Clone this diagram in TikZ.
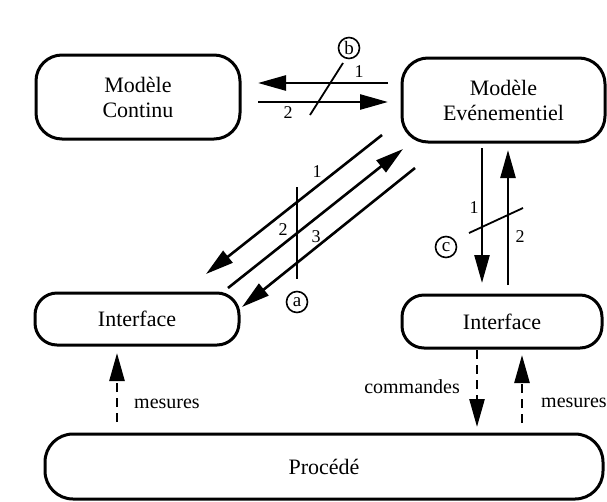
\documentclass[tikz,border=0pt]{standalone}
\usepackage{fontspec}
\setmainfont{Liberation Serif}
\usetikzlibrary{arrows.meta}
\begin{document}
\begin{tikzpicture}[x=1pt,y=-1pt,
  box/.style={draw, line width=3pt, rounded corners=26pt, align=center,
    font=\fontsize{22}{25}\selectfont, inner sep=0pt},
  arr/.style={line width=2.6pt, -{Triangle[length=28pt,width=15pt]}},
  darr/.style={line width=2.6pt, dash pattern=on 9pt off 6pt, -{Triangle[length=28pt,width=15pt]}},
  cut/.style={line width=1.8pt},
  num/.style={font=\fontsize{18}{20}\selectfont, inner sep=0pt},
  lbl/.style={font=\fontsize{20}{22}\selectfont, inner sep=0pt},
  circ/.style={circle, draw, line width=1.6pt, minimum size=21pt, inner sep=0pt,
    font=\fontsize{19}{20}\selectfont}]
\useasboundingbox (0,0) rectangle (607,501);

% boxes
\node[box, minimum width=204pt, minimum height=84pt] (mc) at (138,97) {Modèle\\Continu};
\node[box, minimum width=203pt, minimum height=84pt] (me) at (503.5,100) {Modèle\\Evénementiel};
\node[box, rounded corners=22pt, minimum width=204pt, minimum height=52pt] (ifl) at (137,319) {Interface};
\node[box, rounded corners=22pt, minimum width=200pt, minimum height=53pt] (ifr) at (502,321.5) {Interface};
\node[box, rounded corners=28pt, minimum width=558pt, minimum height=65pt] (proc) at (324,466.5) {Procédé};

% coordinates
\coordinate (h1s) at (388,83);  \coordinate (h1e) at (258,83);
\coordinate (h2s) at (258,102); \coordinate (h2e) at (388,102);
\coordinate (bs) at (343,63);   \coordinate (be) at (310,115);
\coordinate (d1s) at (382,135); \coordinate (d1e) at (206,274);
\coordinate (d2s) at (228,288); \coordinate (d2e) at (403,149);
\coordinate (d3s) at (415,168); \coordinate (d3e) at (242,307);
\coordinate (as) at (297,187);  \coordinate (ae) at (297,279);
\coordinate (v1s) at (482,148); \coordinate (v1e) at (482,283);
\coordinate (v2s) at (508,285); \coordinate (v2e) at (508,150);
\coordinate (cs) at (469,233);  \coordinate (ce) at (523,208);
\coordinate (m1s) at (117,422); \coordinate (m1e) at (117,353);
\coordinate (cms) at (477,350); \coordinate (cme) at (477,427);
\coordinate (m2s) at (522,423); \coordinate (m2e) at (522,355);

% horizontal arrows between models
\draw[arr] (h1s) -- (h1e);
\draw[arr] (h2s) -- (h2e);
\node[num] (n1) at (359,72) {1};
\node[num] (n2) at (288,113) {2};
\draw[cut] (bs) -- (be);
\node[circ] (cb) at (349,48) {b};

% diagonal arrows
\draw[arr] (d1s) -- (d1e);
\draw[arr] (d2s) -- (d2e);
\draw[arr] (d3s) -- (d3e);
\node[num] (dn1) at (317,172) {1};
\node[num] (dn2) at (283,230) {2};
\node[num] (dn3) at (316,237) {3};
\draw[cut] (as) -- (ae);
\node[circ] (ca) at (297,302) {a};

% vertical arrows
\draw[arr] (v1s) -- (v1e);
\draw[arr] (v2s) -- (v2e);
\node[num] (vn1) at (474,208) {1};
\node[num] (vn2) at (520,237) {2};
\draw[cut] (cs) -- (ce);
\node[circ] (cc) at (446,247) {c};

% dashed arrows
\draw[darr] (m1s) -- (m1e);
\node[lbl, anchor=west] (lm1) at (134,404) {mesures};
\draw[darr] (cms) -- (cme);
\node[lbl, anchor=east] (lcm) at (460,387) {commandes};
\draw[darr] (m2s) -- (m2e);
\node[lbl, anchor=west] (lm2) at (541,403) {mesures};
\end{tikzpicture}
\end{document}
